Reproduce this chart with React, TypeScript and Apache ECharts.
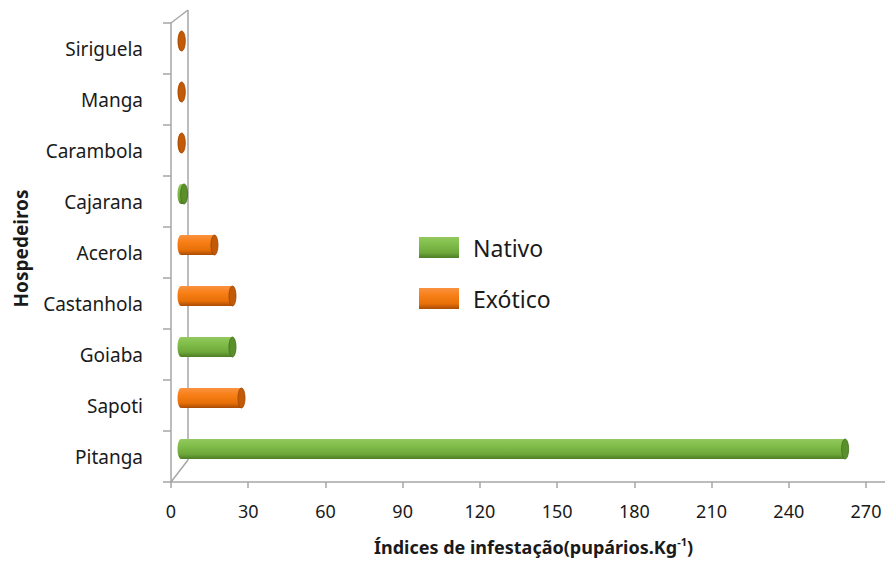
import React, { useEffect, useRef } from "react";
import * as echarts from "echarts";

// Categories from bottom to top
const categories = ["Pitanga", "Sapoti", "Goiaba", "Castanhola", "Acerola", "Cajarana", "Carambola", "Manga", "Siriguela"];
const infestation = [258, 23.5, 20, 20, 13, 1.2, 0.3, 0.3, 0.3];
const origin = ["Nativo", "Exótico", "Nativo", "Exótico", "Exótico", "Nativo", "Exótico", "Exótico", "Exótico"];
const seriesNames = ["Nativo", "Exótico"];
const xMin = 0;
const xMax = 270;
const xInterval = 30;

const FONT = "Noto Sans";
const TEXT = "#1a1a1a";
const GRID_LINE = "#a6a6a6";

const palettes: Record<string, { stops: [number, string][]; cap: string; capStroke: string }> = {
  Nativo: {
    stops: [
      [0, "#93c95f"],
      [0.35, "#80bd4a"],
      [0.75, "#6ea83a"],
      [1, "#4d7d25"],
    ],
    cap: "#5a8f2c",
    capStroke: "#44701c",
  },
  "Exótico": {
    stops: [
      [0, "#fb9240"],
      [0.35, "#f77f16"],
      [0.75, "#e87008"],
      [1, "#a84c06"],
    ],
    cap: "#c25a08",
    capStroke: "#9a4504",
  },
};

function grad(name: string) {
  return new echarts.graphic.LinearGradient(
    0,
    0,
    0,
    1,
    palettes[name].stops.map(([offset, color]) => ({ offset, color }))
  );
}

export default function App() {
  const ref = useRef<HTMLDivElement>(null);

  useEffect(() => {
    if (!ref.current) return;
    const chart = echarts.init(ref.current, undefined, { renderer: "svg" });

    const series = seriesNames.map((name) => {
      const data: [number, number][] = [];
      categories.forEach((_, i) => {
        if (origin[i] === name) data.push([infestation[i], i]);
      });
      return {
        name,
        type: "custom",
        encode: { x: 0, y: 1 },
        itemStyle: { color: grad(name) },
        data,
        renderItem: (_params: any, api: any) => {
          const v = api.value(0);
          const c = api.value(1);
          const s = api.coord([0, c]);
          const e = api.coord([v, c]);
          const dx = 10;
          const dy = -7.5;
          const h = 20;
          const rx = 3.5;
          const x0 = s[0] + dx;
          const x1 = e[0] + dx;
          const cy = s[1] + dy;
          const p = palettes[name];
          return {
            type: "group",
            children: [
              { type: "ellipse", shape: { cx: x0, cy, rx, ry: h / 2 }, style: { fill: grad(name) } },
              {
                type: "rect",
                shape: { x: x0, y: cy - h / 2, width: Math.max(0, x1 - x0), height: h },
                style: { fill: grad(name) },
              },
              {
                type: "ellipse",
                shape: { cx: x1, cy, rx, ry: h / 2 },
                style: { fill: p.cap, stroke: p.capStroke, lineWidth: 0.8 },
              },
            ],
          };
        },
      };
    });

    chart.setOption({
      animation: false,
      backgroundColor: "#ffffff",
      textStyle: { fontFamily: FONT },
      grid: { left: 171, right: 19, top: 23, bottom: 81, containLabel: false },
      xAxis: {
        type: "value",
        min: xMin,
        max: xMax,
        interval: xInterval,
        splitLine: { show: false },
        axisLine: { show: true, lineStyle: { color: GRID_LINE, width: 1.5 } },
        axisTick: { show: true, length: 6, lineStyle: { color: GRID_LINE, width: 1.5 } },
        axisLabel: { color: TEXT, fontSize: 18, fontFamily: FONT, margin: 20 },
        name: "{a|Índices de infestação(pupários.Kg}{s|-1}{a|)}",
        nameLocation: "middle",
        nameGap: 54,
        nameTextStyle: {
          padding: [0, 0, 0, 30],
          rich: {
            a: { fontSize: 18, fontWeight: "bold", color: TEXT, fontFamily: FONT, lineHeight: 22 },
            s: { fontSize: 11, fontWeight: "bold", color: TEXT, fontFamily: FONT, verticalAlign: "top", lineHeight: 12 },
          },
        },
      },
      yAxis: {
        type: "category",
        data: categories,
        axisLine: { show: true, onZero: false, lineStyle: { color: GRID_LINE, width: 1.5 } },
        axisTick: { show: true, length: 8, lineStyle: { color: GRID_LINE, width: 1.5 } },
        axisLabel: { color: TEXT, fontSize: 19, fontFamily: FONT, margin: 28 },
        splitLine: { show: false },
        name: "Hospedeiros",
        nameLocation: "middle",
        nameRotate: 90,
        nameGap: 141,
        nameTextStyle: { color: TEXT, fontSize: 19, fontWeight: "bold", fontFamily: FONT, padding: [0, 0, 0, 8] },
      },
      legend: {
        orient: "vertical",
        left: 419,
        top: 236,
        padding: 0,
        icon: "rect",
        itemWidth: 40,
        itemHeight: 21,
        itemGap: 28,
        data: seriesNames,
        textStyle: { color: TEXT, fontSize: 23, fontFamily: FONT, lineHeight: 23, padding: [0, 0, 0, 9] },
      },
      graphic: [
        { type: "line", shape: { x1: 171, y1: 23, x2: 188, y2: 10 }, style: { stroke: GRID_LINE, lineWidth: 1.5 } },
        { type: "line", shape: { x1: 188, y1: 10, x2: 188, y2: 460 }, style: { stroke: GRID_LINE, lineWidth: 1.5 } },
        { type: "line", shape: { x1: 188, y1: 460, x2: 171, y2: 482 }, style: { stroke: GRID_LINE, lineWidth: 1.5 } },
        { type: "line", shape: { x1: 866, y1: 482, x2: 885, y2: 482 }, style: { stroke: GRID_LINE, lineWidth: 1.5 } },
      ],
      series,
    });

    return () => chart.dispose();
  }, []);

  return (
    <div
      ref={ref}
      style={{ position: "fixed", left: 0, top: 0, width: 885, height: 563, background: "#fff" }}
    />
  );
}
